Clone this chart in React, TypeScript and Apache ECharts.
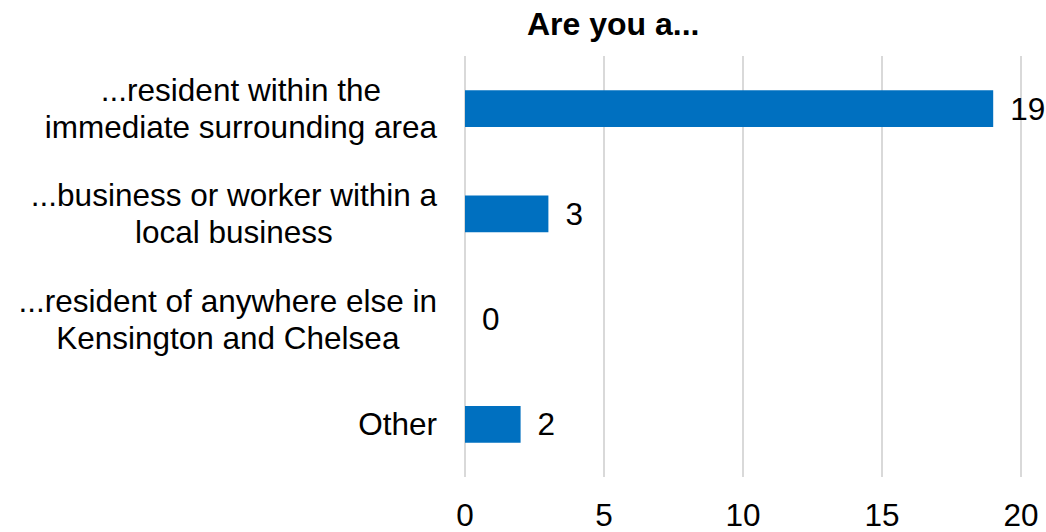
import React, { useEffect, useRef } from "react";
import * as echarts from "echarts";

const titleText = "Are you a...";
const categories = [
  "...resident within the\nimmediate surrounding area",
  "...business or worker within a\nlocal business",
  "...resident of anywhere else in\nKensington and Chelsea",
  "Other",
];
const values = [19, 3, 0, 2];
const xMin = 0;
const xMax = 20;
const xInterval = 5;

export default function App() {
  const ref = useRef<HTMLDivElement>(null);
  useEffect(() => {
    if (!ref.current) return;
    const chart = echarts.init(ref.current, null, { renderer: "svg" });
    const font = "'Liberation Sans', Arial, sans-serif";
    chart.setOption({
      animation: false,
      backgroundColor: "#ffffff",
      title: {
        text: titleText,
        left: 522,
        top: 3,
        textStyle: {
          fontFamily: font,
          fontSize: 32,
          fontWeight: "bold",
          color: "#000000",
        },
      },
      grid: { left: 465, right: 25, top: 56, bottom: 55, containLabel: false },
      xAxis: {
        type: "value",
        min: xMin,
        max: xMax,
        interval: xInterval,
        axisLine: { show: false },
        axisTick: { show: false },
        splitLine: { show: true, lineStyle: { color: "#d9d9d9", width: 2 } },
        axisLabel: {
          margin: 26,
          fontFamily: font,
          fontSize: 31.5,
          lineHeight: 24,
          color: "#000000",
        },
      },
      yAxis: {
        type: "category",
        inverse: true,
        data: categories,
        axisLine: { show: false },
        axisTick: { show: false },
        axisLabel: {
          margin: 28,
          formatter: (v: string) =>
            v.split("\n").map((l) => "{a|" + l + "}").join("\n"),
          rich: {
            a: {
              align: "center",
              fontFamily: font,
              fontSize: 31.5,
              lineHeight: 37,
              color: "#000000",
            },
          },
        },
      },
      series: [
        {
          type: "bar",
          data: values,
          barWidth: "35%",
          itemStyle: { color: "#0070C0" },
          label: {
            show: true,
            position: "right",
            distance: 17,
            fontFamily: font,
            fontSize: 31.5,
            color: "#000000",
          },
        },
      ],
    });
    return () => chart.dispose();
  }, []);
  return (
    <div
      ref={ref}
      style={{ position: "fixed", left: 0, top: 0, width: 1046, height: 532 }}
    />
  );
}
